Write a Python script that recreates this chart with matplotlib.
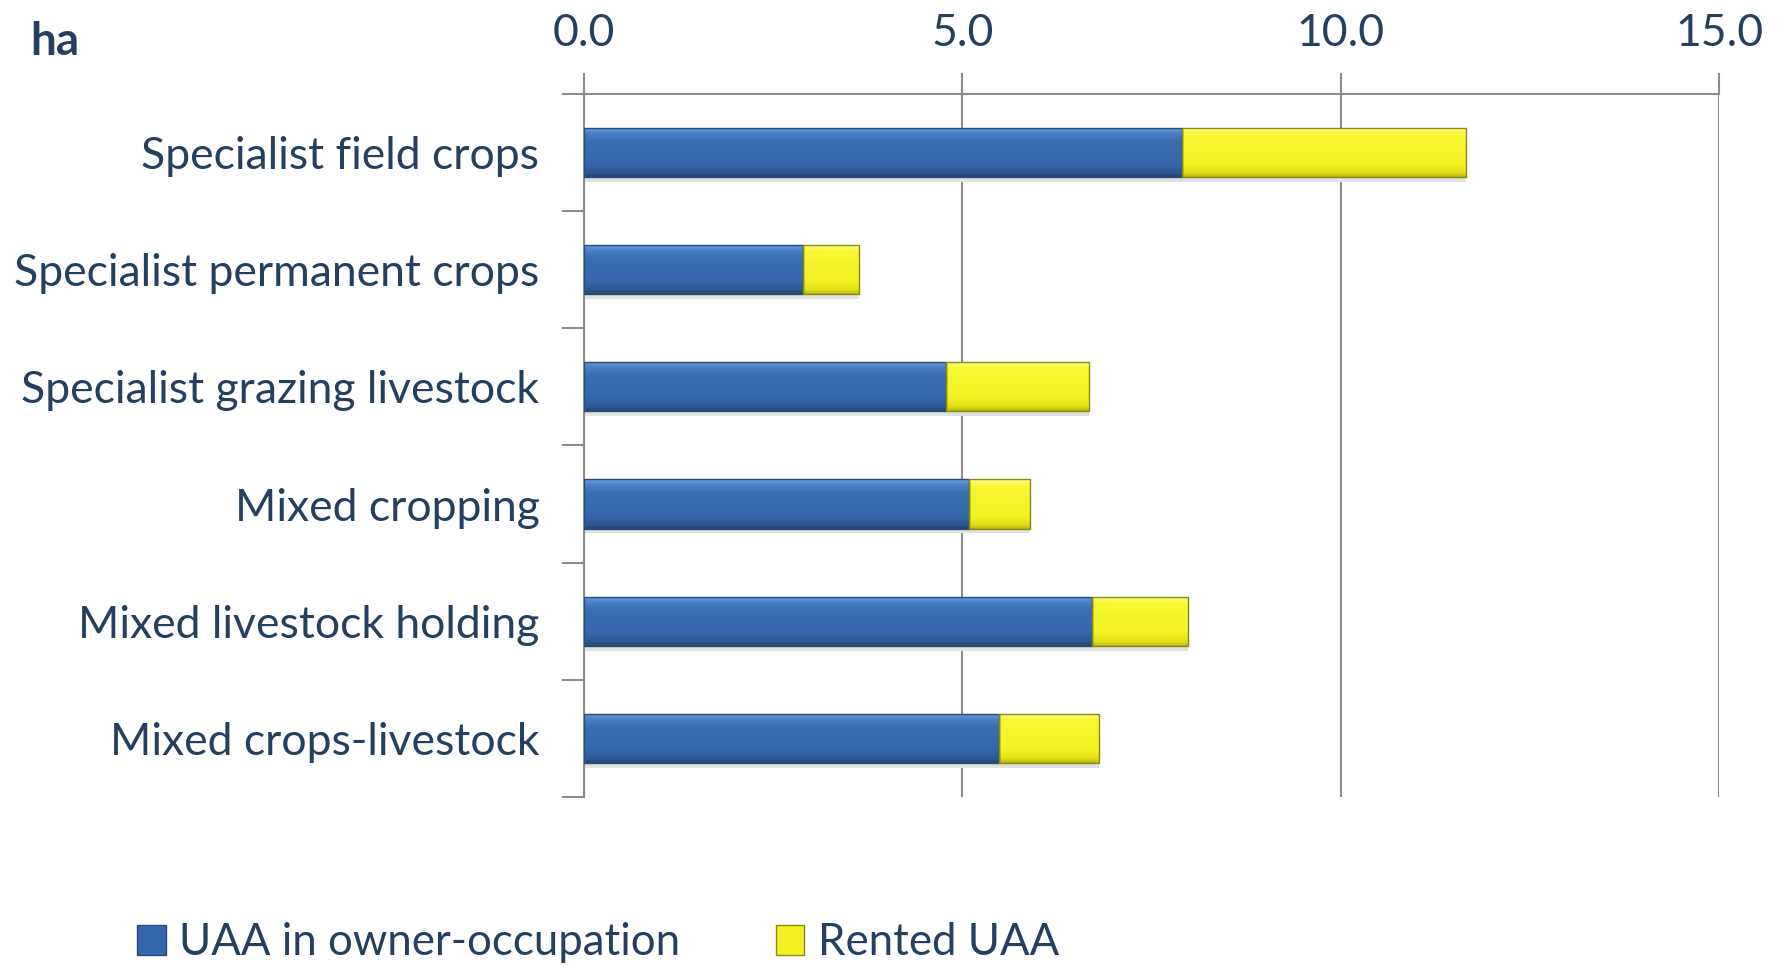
import matplotlib.pyplot as plt
import numpy as np
from matplotlib.patches import Patch
from matplotlib.colors import LinearSegmentedColormap

categories = ['Specialist field crops', 'Specialist permanent crops',
              'Specialist grazing livestock', 'Mixed cropping',
              'Mixed livestock holding', 'Mixed crops-livestock']
owner = [7.9, 2.9, 4.78, 5.09, 6.71, 5.48]
rented = [3.76, 0.74, 1.9, 0.81, 1.27, 1.32]
series_names = ['UAA in owner-occupation', 'Rented UAA']
xticks = [0, 5, 10, 15]

plt.rcParams['font.family'] = ['Lato', 'DejaVu Sans']
txt = '#243F60'
grid_c = '#8c8c8c'

# vertical shading of the bars: highlight on top, darker towards the bottom
blue_cm = LinearSegmentedColormap.from_list('b', [(0, '#6b9fe2'), (0.12, '#4a80c8'), (0.28, '#3a6db2'),
                                                  (0.75, '#3467ab'), (0.92, '#2d5890'), (1, '#26456e')])
yel_cm = LinearSegmentedColormap.from_list('y', [(0, '#fcfc80'), (0.15, '#f6f634'), (0.75, '#f2f222'),
                                                 (0.92, '#e0e01a'), (1, '#b8b812')])

fig = plt.figure(figsize=(17.77, 9.66), dpi=100)
ax = fig.add_axes([0.3286, 0.175, 0.9674 - 0.3286, 0.9027 - 0.175])

y = np.arange(len(categories))
h = 0.42
grad = np.linspace(0, 1, 64).reshape(-1, 1)

# soft shadow under the bars
ax.barh(y + 0.04, np.array(owner) + np.array(rented), height=h, color='#e2e2e2',
        edgecolor='none', zorder=1.5)

for vals, left, cm, edge in [(owner, [0] * len(owner), blue_cm, '#2a4d7a'),
                             (rented, owner, yel_cm, '#8a8a10')]:
    bars = ax.barh(y, vals, left=left, height=h, color='none', edgecolor=edge,
                   linewidth=1.0, zorder=3)
    for b in bars:
        x0, y0 = b.get_x(), b.get_y()
        im = ax.imshow(grad, cmap=cm, aspect='auto', zorder=2.5, origin='upper',
                       extent=[x0, x0 + b.get_width(), y0 + b.get_height(), y0])
        im.set_clip_path(b)

ax.set_xlim(0, 15)
ax.set_ylim(len(categories) - 0.5, -0.5)
ax.set_xticks(xticks)
ax.set_xticklabels(['%.1f' % v for v in xticks])
ax.xaxis.tick_top()
ax.tick_params(axis='x', colors=grid_c, labelcolor=txt, labelsize=32, length=15,
               width=1.5, pad=14)
ax.set_yticks(np.arange(len(categories) + 1) - 0.5)
ax.set_yticklabels([])
ax.set_yticks(y, minor=True)
ax.set_yticklabels(categories, minor=True)
ax.tick_params(axis='y', which='major', colors=grid_c, length=16, width=1.5)
ax.tick_params(axis='y', which='minor', length=0, labelsize=32, labelcolor=txt, pad=32)
ax.grid(axis='x', color=grid_c, linewidth=1.5, zorder=0)
ax.set_axisbelow(True)
for s in ['right', 'bottom']:
    ax.spines[s].set_visible(False)
for s in ['top', 'left']:
    ax.spines[s].set_color(grid_c)
    ax.spines[s].set_linewidth(1.5)

fig.text(0.017, 0.957, 'ha', fontsize=33, fontweight='bold', color=txt, va='center')

handles = [Patch(facecolor='#3467ab', edgecolor='#2a4d7a'),
           Patch(facecolor='#f2f222', edgecolor='#8a8a10')]
fig.legend(handles, series_names, loc='center left', bbox_to_anchor=(0.055, 0.024),
           ncol=2, frameon=False, fontsize=31.5, labelcolor=txt, handlelength=0.65,
           handleheight=0.65, handletextpad=0.3, columnspacing=2.2)

fig.savefig('out.png', dpi=100)
